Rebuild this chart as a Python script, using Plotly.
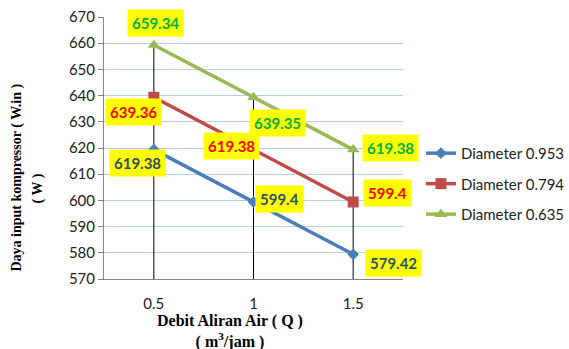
import plotly.graph_objects as go

categories = ["0.5", "1", "1.5"]
series_names = ["Diameter 0.953", "Diameter 0.794", "Diameter 0.635"]
d0953 = [619.38, 599.4, 579.42]
d0794 = [639.36, 619.38, 599.4]
d0635 = [659.34, 639.35, 619.38]
y_ticks = [570, 580, 590, 600, 610, 620, 630, 640, 650, 660, 670]
x_title = "<b>Debit Aliran Air ( Q )</b><br><b>( m<sup>3</sup>/jam )</b>"
y_title_lines = ["<b>Daya input kompressor ( W.in )</b>", "<b>( W )</b>"]

series = [d0953, d0794, d0635]
colors = ["#4a7ebb", "#be4b48", "#98b954"]
symbols = ["diamond", "square", "triangle-up"]
msizes = [9, 11, 11]
label_colors = ["#2f4f6f", "#ff0000", "#00b050"]
# label offsets (pixels) per series per point
shifts = [
    [(-16, -13), (26, 3), (40, -9)],
    [(-20, -15), (-22, 4), (34, 9)],
    [(2, 22), (24, -26), (37, 2)],
]

fig = go.Figure()

# drop lines from the highest point to the axis floor
dx, dy = [], []
for i, c in enumerate(categories):
    top = max(s[i] for s in series)
    dx += [c, c, None]
    dy += [top, y_ticks[0], None]
fig.add_trace(go.Scatter(x=dx, y=dy, mode="lines", line=dict(color="black", width=1),
                         showlegend=False, hoverinfo="skip"))

for name, s, col, sym, ms in zip(series_names, series, colors, symbols, msizes):
    fig.add_trace(go.Scatter(x=categories, y=s, mode="lines+markers", name=name,
                             legendgroup=name,
                             line=dict(color=col, width=3.5),
                             marker=dict(symbol=sym, size=ms, color=col)))

annotations = []
for s, lc, sh in zip(series, label_colors, shifts):
    for i, (v, (xs, ys)) in enumerate(zip(s, sh)):
        annotations.append(dict(x=i, y=v, xref="x", yref="y", text="<b>%g</b>" % v,
                                showarrow=False, xshift=xs, yshift=ys,
                                xanchor="center", yanchor="middle",
                                bgcolor="#ffff00", borderpad=4,
                                font=dict(family="Lato, Open Sans, sans-serif", size=15, color=lc)))

annotations.append(dict(text=x_title, xref="paper", yref="paper", x=0.423, y=-0.2,
                        xanchor="center", yanchor="middle", showarrow=False,
                        font=dict(family="Liberation Serif, Times New Roman, serif", size=16, color="black")))
for txt, px, py in zip(y_title_lines, [-0.292, -0.221], [0.386, 0.345]):
    annotations.append(dict(text=txt, xref="paper", yref="paper", x=px, y=py,
                            xanchor="center", yanchor="middle", showarrow=False, textangle=-90,
                            font=dict(family="Liberation Serif, Times New Roman, serif", size=14, color="black")))

fig.update_layout(
    width=569, height=349,
    margin=dict(l=104, r=166, t=17, b=70, autoexpand=False),
    paper_bgcolor="white", plot_bgcolor="white",
    annotations=annotations,
    legend=dict(x=1.06, y=0.363, xanchor="left", yanchor="middle",
                font=dict(family="Lato, Open Sans, sans-serif", size=15, color="#222222"),
                tracegroupgap=8, itemwidth=30),
    xaxis=dict(type="category", range=[-0.5, 2.5], showgrid=False, automargin=False,
               showline=True, linecolor="#868686", linewidth=1,
               ticks="", ticklabelstandoff=11,
               tickfont=dict(family="Lato, Open Sans, sans-serif", size=15, color="#222222")),
    yaxis=dict(range=[570, 670], tickvals=y_ticks, showgrid=True, gridcolor="#b9cde5",
               showline=True, linecolor="#868686", linewidth=1, ticks="outside", ticklen=5,
               tickcolor="#868686", zeroline=False, automargin=False,
               tickfont=dict(family="Lato, Open Sans, sans-serif", size=15, color="#222222")),
)

fig.write_html("out.html")
